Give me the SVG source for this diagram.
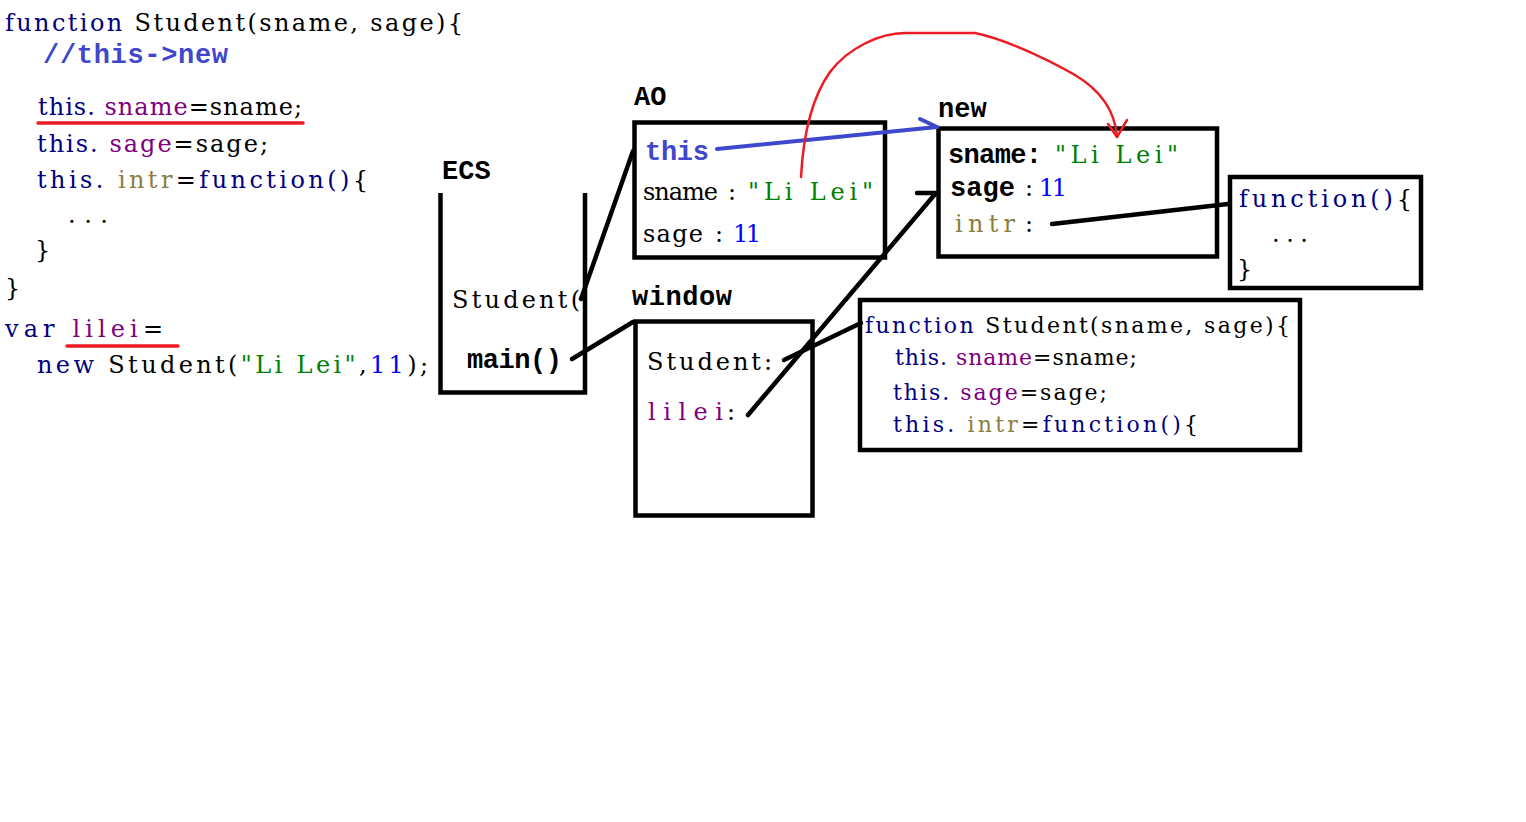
<svg xmlns="http://www.w3.org/2000/svg" width="1526" height="822" viewBox="0 0 1526 822">
<style>
.code{font-family:"DejaVu Serif","Liberation Serif",serif;font-size:24px;fill:#000}
.small{font-size:22px}
.bold{font-family:"Liberation Mono","Courier New",monospace;font-weight:bold;font-size:27px;fill:#000}
.kw{fill:#000080}
.prop{fill:#800080}
.intr{fill:#8a8040}
.str{fill:#008000}
.num{fill:#0000ff}
.cm{fill:#3f48cc}
.box{fill:none;stroke:#000;stroke-width:4.5}
.wire{fill:none;stroke:#000;stroke-width:4.5;stroke-linecap:round;stroke-linejoin:round}
.blue{fill:none;stroke:#3f48cc;stroke-width:4;stroke-linecap:round}
.red{fill:none;stroke:#ed1c24;stroke-width:2.5;stroke-linecap:round;stroke-linejoin:round}
.uline{stroke:#ed1c24;stroke-width:3.5;stroke-linecap:round}
</style>
<rect width="1526" height="822" fill="#fff"/>

<g id="source-code">
<text class="code" x="5" y="31" textLength="458" lengthAdjust="spacing"><tspan class="kw">function</tspan> Student(sname, sage){</text>
<text class="bold cm" x="43" y="63" textLength="185" lengthAdjust="spacing">//this-&gt;new</text>
<text class="code" x="38" y="115" textLength="264" lengthAdjust="spacing"><tspan class="kw">this.</tspan> <tspan class="prop">sname</tspan>=sname;</text>
<line class="uline" x1="38" y1="123" x2="303" y2="123"/>
<text class="code" x="37" y="152" textLength="231" lengthAdjust="spacing"><tspan class="kw">this.</tspan> <tspan class="prop">sage</tspan>=sage;</text>
<text class="code" x="37" y="188" textLength="331" lengthAdjust="spacing"><tspan class="kw">this.</tspan> <tspan class="intr">intr</tspan>=<tspan class="kw">function()</tspan>{</text>
<text class="code" x="68" y="223" textLength="40" lengthAdjust="spacing">...</text>
<text class="code" x="35" y="258">}</text>
<text class="code" x="5" y="296">}</text>
<text class="code" x="5" y="337" textLength="158" lengthAdjust="spacing"><tspan class="kw">var</tspan> <tspan class="prop">lilei</tspan>=</text>
<line class="uline" x1="67" y1="346" x2="178" y2="346"/>
<text class="code" x="37" y="373" textLength="391" lengthAdjust="spacing"><tspan class="kw">new</tspan> Student(<tspan class="str">"Li Lei"</tspan>,<tspan class="num">11</tspan>);</text>
</g>

<g id="ecs">
<text class="bold" x="442" y="179">ECS</text>
<path class="box" d="M440.5 193 V392.5 H585 V193"/>
<text class="code" x="452" y="308" textLength="128" lengthAdjust="spacing">Student(</text>
<text class="bold" x="467" y="368" textLength="95" lengthAdjust="spacing">main()</text>
</g>

<g id="ao">
<text class="bold" x="634" y="105">AO</text>
<rect class="box" x="634.5" y="122.5" width="250.5" height="135"/>
<text class="bold cm" x="645" y="160" textLength="64" lengthAdjust="spacing">this</text>
<text class="code" x="643" y="200" textLength="75" lengthAdjust="spacing">sname</text>
<text class="code" x="728" y="200">:</text>
<text class="code str" x="748" y="200" textLength="125" lengthAdjust="spacing">"Li Lei"</text>
<text class="code" x="643" y="242" textLength="60" lengthAdjust="spacing">sage</text>
<text class="code" x="715" y="242">:</text>
<text class="code num" x="733" y="242" textLength="28" lengthAdjust="spacing">11</text>
</g>

<g id="new">
<text class="bold" x="938" y="117">new</text>
<rect class="box" x="938.5" y="128.5" width="278.5" height="128"/>
<text class="bold" x="948" y="163" textLength="94" lengthAdjust="spacing">sname:</text>
<text class="code str" x="1055" y="163" textLength="123" lengthAdjust="spacing">"Li Lei"</text>
<text class="bold" x="950" y="196" textLength="65" lengthAdjust="spacing">sage</text>
<text class="code" x="1025" y="196">:</text>
<text class="code num" x="1039" y="196" textLength="28" lengthAdjust="spacing">11</text>
<text class="code intr" x="955" y="232" textLength="60" lengthAdjust="spacing">intr</text>
<text class="code" x="1025" y="232">:</text>
</g>

<g id="intr-function">
<rect class="box" x="1230" y="177" width="191" height="111"/>
<text class="code" x="1239" y="207" textLength="173" lengthAdjust="spacing"><tspan class="kw">function()</tspan>{</text>
<text class="code" x="1272" y="242" textLength="36" lengthAdjust="spacing">...</text>
<text class="code" x="1237" y="277">}</text>
</g>

<g id="window">
<text class="bold" x="632" y="305" textLength="100" lengthAdjust="spacing">window</text>
<rect class="box" x="635.5" y="321.5" width="177" height="194"/>
<text class="code" x="647" y="370" textLength="125" lengthAdjust="spacing">Student:</text>
<text class="code prop" x="648" y="420" textLength="75" lengthAdjust="spacing">lilei</text>
<text class="code" x="727" y="420">:</text>
</g>

<g id="student-function">
<rect class="box" x="860" y="300" width="440" height="150"/>
<text class="code small" x="865" y="333" textLength="425" lengthAdjust="spacing"><tspan class="kw">function</tspan> Student(sname, sage){</text>
<text class="code small" x="895" y="365" textLength="242" lengthAdjust="spacing"><tspan class="kw">this.</tspan> <tspan class="prop">sname</tspan>=sname;</text>
<text class="code small" x="893" y="400" textLength="214" lengthAdjust="spacing"><tspan class="kw">this.</tspan> <tspan class="prop">sage</tspan>=sage;</text>
<text class="code small" x="893" y="432" textLength="305" lengthAdjust="spacing"><tspan class="kw">this.</tspan> <tspan class="intr">intr</tspan>=<tspan class="kw">function()</tspan>{</text>
</g>

<g id="connectors">
<line class="wire" x1="581" y1="299" x2="633" y2="151"/>
<line class="wire" x1="572" y1="359" x2="633" y2="322"/>
<line class="wire" x1="784" y1="360" x2="861" y2="323"/>
<polyline class="wire" points="748,415 936,193 917,193"/>
<line class="wire" x1="1052" y1="224" x2="1228" y2="204"/>
<line class="blue" x1="717" y1="149" x2="937" y2="127"/>
<line class="blue" x1="920" y1="119" x2="937" y2="127"/>
<path class="red" d="M801 177 C803 140 810 100 830 72 C848 48 880 33 905 33 L975 33 C1000 38 1040 55 1075 75 C1100 90 1115 110 1117 137"/>
<polyline class="red" points="1108,124 1117,137 1127,120"/>
</g>
</svg>
